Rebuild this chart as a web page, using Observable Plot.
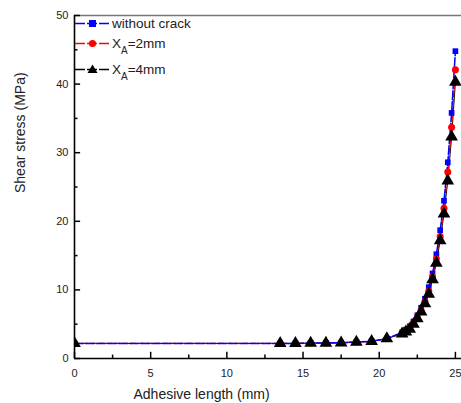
<!DOCTYPE html>
<html>
<head>
<meta charset="utf-8">
<script src="https://cdn.jsdelivr.net/npm/d3@7"></script>
<script src="https://cdn.jsdelivr.net/npm/@observablehq/plot@0.6"></script>
<style>
  html, body { margin: 0; padding: 0; background: #fff; }
  #wrap { position: relative; width: 461px; height: 403px; font-family: "Liberation Sans", Arial, sans-serif; }
  #legend { position: absolute; left: 75px; top: 14px; font-size: 13.5px; color: #222; }
  .row { position: absolute; left: 0; white-space: nowrap; height: 18px; }
  .row svg { position: absolute; left: 0; top: 0; }
  .row span.t { position: absolute; left: 37px; top: 1px; }
  sub { font-size: 10px; vertical-align: -6px; }
</style>
</head>
<body>
<div id="wrap"></div>
<script>
const xs = [0, 13.5, 14.5, 15.5, 16.5, 17.5, 18.5, 19.5, 20.5, 21.5, 21.75, 22, 22.25, 22.5, 22.75, 23, 23.25, 23.5, 23.75, 24, 24.25, 24.5, 24.75, 25];
const withoutCrack = [2.2, 2.2, 2.2, 2.25, 2.25, 2.3, 2.4, 2.5, 2.9, 3.8, 4.2, 4.7, 5.4, 6.3, 7.4, 8.7, 10.4, 12.4, 15.2, 18.7, 23.0, 28.6, 35.8, 44.8];
const xa2mm = [2.2, 2.2, 2.2, 2.25, 2.25, 2.3, 2.4, 2.5, 2.9, 3.7, 4.0, 4.5, 5.2, 6.0, 7.0, 8.3, 9.8, 11.9, 14.5, 17.8, 21.9, 27.2, 33.7, 42.1];
const xa4mm = [2.2, 2.2, 2.2, 2.25, 2.25, 2.3, 2.4, 2.5, 2.9, 3.6, 3.9, 4.3, 5.0, 5.8, 6.8, 8.0, 9.4, 11.5, 13.9, 17.2, 21.1, 25.9, 32.3, 40.3];
const xTicks = [0, 5, 10, 15, 20, 25];
const xMinor = [2.5, 7.5, 12.5, 17.5, 22.5];
const yTicks = [0, 10, 20, 30, 40, 50];
const yMinor = [5, 15, 25, 35, 45];

const mk = (ys) => xs.map((x, i) => ({x, y: ys[i]}));
const dBlue = mk(withoutCrack), dRed = mk(xa2mm), dBlack = mk(xa4mm);

const W = 461, H = 403, mT = 15, mB = 45, mL = 74, mR = 0;

const chart = Plot.plot({
  width: W, height: H,
  marginTop: mT, marginBottom: mB, marginLeft: mL, marginRight: mR,
  style: {fontFamily: "'Liberation Sans', Arial, sans-serif", fontSize: "11px", color: "#222"},
  x: {domain: [0, 25.4], label: null},
  y: {domain: [0, 50], label: null},
  marks: [
    Plot.ruleY([50], {stroke: "#777", strokeWidth: 1.5}),
    Plot.lineY(dBlack, {x: "x", y: "y", stroke: "black", strokeWidth: 1, clip: "frame"}),
    Plot.lineY(dRed, {x: "x", y: "y", stroke: "red", strokeWidth: 1.3, strokeDasharray: "5,3", clip: "frame"}),
    Plot.lineY(dBlue, {x: "x", y: "y", stroke: "#0000ff", strokeWidth: 1.5, strokeDasharray: "9,2", clip: "frame"}),
    Plot.dot(dBlue, {x: "x", y: "y", symbol: "square", r: 3.2, fill: "#0000ff", stroke: "none", clip: "frame"}),
    Plot.dot(dRed, {x: "x", y: "y", symbol: "circle", r: 3.5, fill: "red", stroke: "none", clip: "frame"}),
    Plot.dot(dBlack, {x: "x", y: "y", symbol: "triangle", r: 4.7, fill: "black", stroke: "none", clip: "frame"}),
    Plot.axisX({ticks: xTicks, tickSize: 0, tickPadding: 11, tickFormat: d => d, fontSize: 11, label: null}),
    Plot.axisY({ticks: yTicks, tickSize: 0, tickPadding: 6, tickFormat: d => d, fontSize: 11, label: null}),
    Plot.ruleX(xTicks, {x: d => d, y1: 0, y2: 0.9, stroke: "black", strokeWidth: 1.5}),
    Plot.ruleX(xMinor, {x: d => d, y1: 0, y2: 0.5, stroke: "black", strokeWidth: 1.5}),
    Plot.ruleY(yTicks, {y: d => d, x1: 0, x2: 0.4, stroke: "black", strokeWidth: 1.5}),
    Plot.ruleY(yMinor, {y: d => d, x1: 0, x2: 0.23, stroke: "black", strokeWidth: 1.5}),
    Plot.ruleX([0], {stroke: "black", strokeWidth: 1.6}),
    Plot.ruleY([0], {stroke: "black", strokeWidth: 1.6}),
    Plot.text(["Adhesive length (mm)"], {frameAnchor: "bottom-left", dx: 59, dy: 40, fontSize: 14, fill: "#222", textAnchor: "start"}),
    Plot.text(["Shear stress (MPa)"], {frameAnchor: "left", dx: -54, dy: 6, rotate: -90, fontSize: 14, fill: "#222"})
  ]
});
const wrap = document.getElementById("wrap");
wrap.appendChild(chart);

const legendItems = [
  {label: "without crack", color: "#0000ff", symbol: "square", top: 1},
  {label: "X<sub>A</sub>=2mm", color: "red", symbol: "circle", top: 21},
  {label: "X<sub>A</sub>=4mm", color: "black", symbol: "triangle", top: 47}
];
const legend = document.createElement("div");
legend.id = "legend";
for (const it of legendItems) {
  const row = document.createElement("div");
  row.className = "row";
  row.style.top = it.top + "px";
  let sym;
  if (it.symbol === "square") sym = `<rect x="14" y="5" width="7" height="7" fill="${it.color}"/>`;
  else if (it.symbol === "circle") sym = `<circle cx="17.5" cy="8.5" r="3.6" fill="${it.color}"/>`;
  else sym = `<path d="M17.5,3.5 L22.5,12 L12.5,12 Z" fill="${it.color}"/>`;
  row.innerHTML = `<svg width="36" height="18"><line x1="0" y1="8.5" x2="34" y2="8.5" stroke="${it.color}" stroke-width="1.3" stroke-dasharray="10,2"/>${sym}</svg><span class="t">${it.label}</span>`;
  legend.appendChild(row);
}
wrap.appendChild(legend);
</script>
</body>
</html>
